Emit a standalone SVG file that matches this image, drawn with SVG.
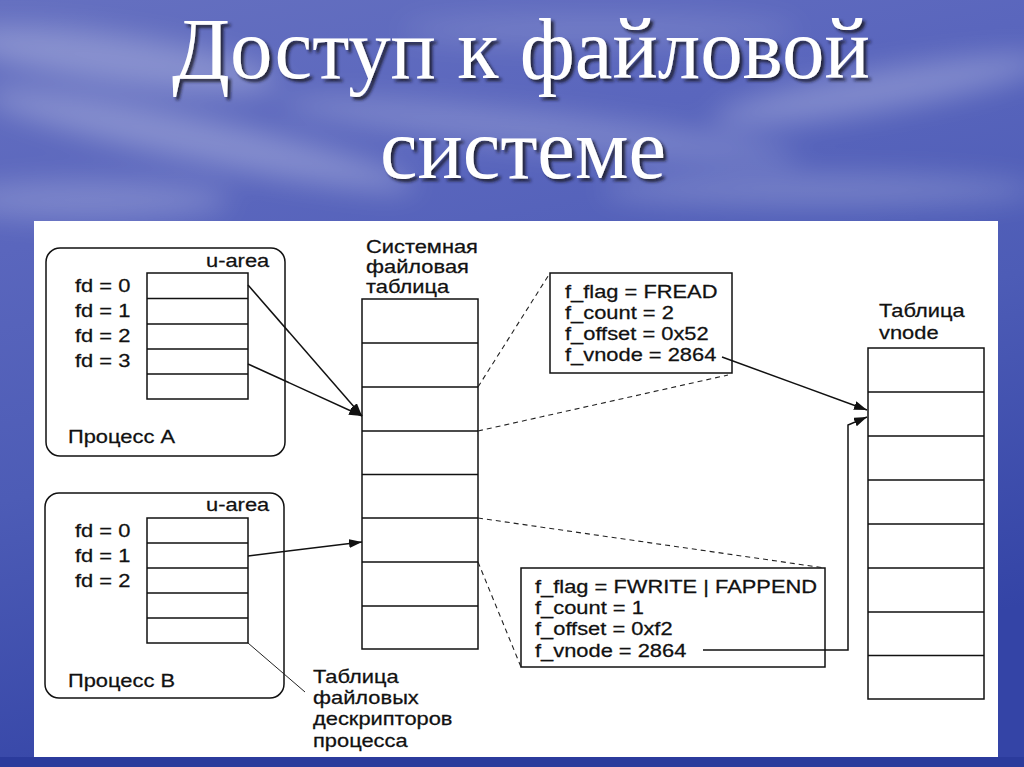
<svg xmlns="http://www.w3.org/2000/svg" width="1024" height="767" viewBox="0 0 1024 767">
<defs>
<linearGradient id="sky" x1="0" y1="0" x2="0.3" y2="1">
<stop offset="0" stop-color="#6570c0"/>
<stop offset="0.3" stop-color="#5a66bd"/>
<stop offset="0.6" stop-color="#4d5cb6"/>
<stop offset="1" stop-color="#3444a6"/>
</linearGradient>
<filter id="blur" x="-50%" y="-50%" width="200%" height="200%"><feGaussianBlur stdDeviation="14"/></filter>
<filter id="sh" x="-10%" y="-20%" width="120%" height="150%"><feDropShadow dx="3" dy="3" stdDeviation="1.5" flood-color="#141428" flood-opacity="0.85"/></filter>
<marker id="ah" markerUnits="userSpaceOnUse" markerWidth="14" markerHeight="10" refX="13" refY="4.5" orient="auto">
<path d="M0,0 L13,4.5 L0,9 Z" fill="#111"/>
</marker>
<style>
.t{font-family:"Liberation Sans",Arial,sans-serif;font-size:17.5px;fill:#111;stroke:#111;stroke-width:0.25}
.box{fill:#fff;stroke:#111;stroke-width:1.5}
.row{stroke:#111;stroke-width:1.3;fill:none}
.con{stroke:#111;stroke-width:1.5;fill:none}
.dash{stroke:#222;stroke-width:1.1;fill:none;stroke-dasharray:5 4}
.title{font-family:"Liberation Serif","Times New Roman",serif;font-size:86px;fill:#ffffff}
</style>
</defs>

<g id="background">
<rect x="0" y="0" width="1024" height="767" fill="url(#sky)"/>
<g filter="url(#blur)" fill="#ffffff">
<ellipse cx="120" cy="60" rx="160" ry="25" opacity="0.25" transform="rotate(8 120 60)"/>
<ellipse cx="200" cy="140" rx="220" ry="22" opacity="0.25" transform="rotate(12 200 140)"/>
<ellipse cx="540" cy="130" rx="260" ry="18" opacity="0.2" transform="rotate(6 540 130)"/>
<ellipse cx="880" cy="90" rx="170" ry="20" opacity="0.25" transform="rotate(-10 880 90)"/>
<ellipse cx="820" cy="190" rx="220" ry="16" opacity="0.2"/>
<ellipse cx="90" cy="200" rx="140" ry="20" opacity="0.2"/>
<ellipse cx="600" cy="30" rx="200" ry="14" opacity="0.15"/>
</g>
<rect x="0" y="757" width="1024" height="10" fill="#2b3b9c"/>
</g>

<g id="title" filter="url(#sh)">
<text class="title" x="172" y="78" textLength="698" lengthAdjust="spacingAndGlyphs">Доступ к файловой</text>
<text class="title" x="380" y="178" textLength="286" lengthAdjust="spacingAndGlyphs">системе</text>
</g>

<rect id="panel" x="34" y="221" width="964" height="536" fill="#ffffff"/>

<g id="processA">
<rect class="box" x="46" y="248" width="239" height="208" rx="14"/>
<text class="t" transform="translate(206,267) scale(1.25,1)">u-area</text>
<rect class="box" x="147" y="273" width="101" height="126"/>
<path class="row" d="M147,298.5H248M147,324H248M147,349H248M147,374H248"/>
<text class="t" transform="translate(75,292) scale(1.25,1)">fd = 0</text>
<text class="t" transform="translate(75,317) scale(1.25,1)">fd = 1</text>
<text class="t" transform="translate(75,342) scale(1.25,1)">fd = 2</text>
<text class="t" transform="translate(75,367) scale(1.25,1)">fd = 3</text>
<text class="t" transform="translate(68,443) scale(1.25,1)">Процесс А</text>
</g>

<g id="processB">
<rect class="box" x="45" y="493" width="239" height="205" rx="14"/>
<text class="t" transform="translate(206,511) scale(1.25,1)">u-area</text>
<rect class="box" x="147" y="518" width="101" height="125"/>
<path class="row" d="M147,543H248M147,568H248M147,593H248M147,618H248"/>
<text class="t" transform="translate(75,537) scale(1.25,1)">fd = 0</text>
<text class="t" transform="translate(75,562) scale(1.25,1)">fd = 1</text>
<text class="t" transform="translate(75,587) scale(1.25,1)">fd = 2</text>
<text class="t" transform="translate(68,687) scale(1.25,1)">Процесс В</text>
</g>

<g id="fdLabel">
<text class="t" transform="translate(313,683) scale(1.25,1)">Таблица</text>
<text class="t" transform="translate(313,704) scale(1.25,1)">файловых</text>
<text class="t" transform="translate(313,725) scale(1.25,1)">дескрипторов</text>
<text class="t" transform="translate(313,747) scale(1.25,1)">процесса</text>
</g>

<g id="sysTable">
<text class="t" transform="translate(366,253) scale(1.25,1)">Системная</text>
<text class="t" transform="translate(366,273) scale(1.25,1)">файловая</text>
<text class="t" transform="translate(366,293) scale(1.25,1)">таблица</text>
<rect class="box" x="362" y="299" width="116" height="350"/>
<path class="row" d="M362,343H478M362,387H478M362,431H478M362,474.5H478M362,518H478M362,562H478M362,606H478"/>
</g>

<g id="fileEntry1">
<rect class="box" x="550" y="273" width="182" height="100"/>
<text class="t" transform="translate(565,298) scale(1.25,1)">f_flag = FREAD</text>
<text class="t" transform="translate(565,319) scale(1.25,1)">f_count = 2</text>
<text class="t" transform="translate(565,340) scale(1.25,1)">f_offset = 0x52</text>
<text class="t" transform="translate(565,361) scale(1.25,1)">f_vnode = 2864</text>
</g>

<g id="fileEntry2">
<rect class="box" x="521" y="568" width="304" height="99"/>
<text class="t" transform="translate(535,593) scale(1.25,1)">f_flag = FWRITE | FAPPEND</text>
<text class="t" transform="translate(535,614) scale(1.25,1)">f_count = 1</text>
<text class="t" transform="translate(535,635) scale(1.25,1)">f_offset = 0xf2</text>
<text class="t" transform="translate(535,657) scale(1.25,1)">f_vnode = 2864</text>
</g>

<g id="vnodeTable">
<text class="t" transform="translate(879,317) scale(1.25,1)">Таблица</text>
<text class="t" transform="translate(879,339) scale(1.25,1)">vnode</text>
<rect class="box" x="868" y="348" width="116" height="351"/>
<path class="row" d="M868,392H984M868,436H984M868,480H984M868,524H984M868,568H984M868,612H984M868,655.5H984"/>
</g>

<g id="connectors">
<path class="con" d="M248,285 L362,416" marker-end="url(#ah)"/>
<path class="con" d="M248,364 L362,416" marker-end="url(#ah)"/>
<path class="con" d="M248,556 L362,542" marker-end="url(#ah)"/>
<path class="con" d="M722,357 L867,410" marker-end="url(#ah)"/>
<path class="con" d="M703,650 L848,650 L848,425 L867,417" marker-end="url(#ah)"/>
<path stroke="#222" stroke-width="1" fill="none" d="M248,643 L305,692"/>
<path class="dash" d="M478,387 L550,273"/>
<path class="dash" d="M478,431 L728,375"/>
<path class="dash" d="M478,518 L825,568"/>
<path class="dash" d="M478,562 L521,667"/>
</g>
</svg>
